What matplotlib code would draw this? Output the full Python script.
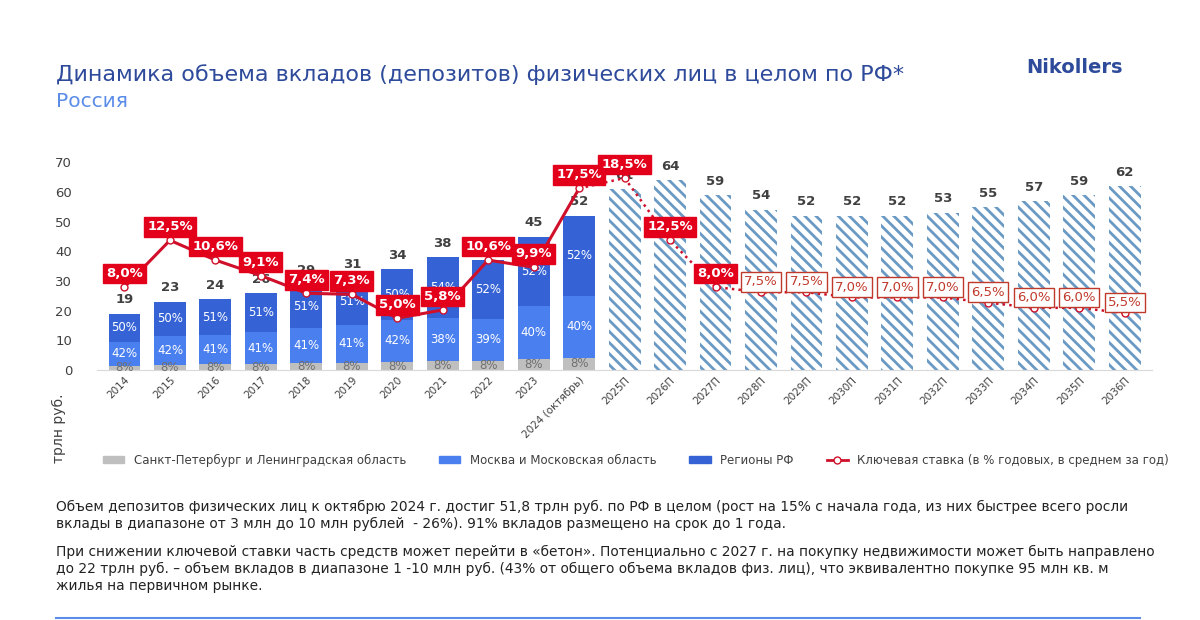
import matplotlib
matplotlib.use("Agg")
import matplotlib.pyplot as plt
from matplotlib.patches import Patch
from matplotlib.lines import Line2D
import numpy as np

plt.rcParams['font.family'] = 'DejaVu Sans'
plt.rcParams['hatch.linewidth'] = 2.0

categories = ["2014","2015","2016","2017","2018","2019","2020","2021","2022","2023","2024 (октябрь)",
              "2025П","2026П","2027П","2028П","2029П","2030П","2031П","2032П","2033П","2034П","2035П","2036П"]
totals = [19,23,24,26,29,31,34,38,37,45,52,61,64,59,54,52,52,52,53,55,57,59,62]
spb_pct = [8,8,8,8,8,8,8,8,8,8,8]
msk_pct = [42,42,41,41,41,41,42,38,39,40,40]
reg_pct = [50,50,51,51,51,51,50,54,52,52,52]
key_rate = [8.0,12.5,10.6,9.1,7.4,7.3,5.0,5.8,10.6,9.9,17.5,18.5,12.5,8.0,7.5,7.5,7.0,7.0,7.0,6.5,6.0,6.0,5.5]
n_hist = 11

fig = plt.figure(figsize=(12,6.2), dpi=100)
fig.patch.set_facecolor('white')
ax = fig.add_axes([0.081, 0.403, 0.879, 0.335])
ax.set_facecolor('none')
x = np.arange(len(categories))
w = 0.7
c_spb, c_msk, c_reg = '#bfbfbf', '#4a7ff0', '#3563d6'
for i in range(n_hist):
    t = totals[i]
    s = t*spb_pct[i]/100; m = t*msk_pct[i]/100; r = t - s - m
    ax.bar(x[i], s, w, color=c_spb)
    ax.bar(x[i], m, w, bottom=s, color=c_msk)
    ax.bar(x[i], r, w, bottom=s+m, color=c_reg)
    ax.text(x[i], s/2, f"{spb_pct[i]}%", ha='center', va='center', color='#707070', fontsize=8.5)
    ax.text(x[i], s+m/2, f"{msk_pct[i]}%", ha='center', va='center', color='white', fontsize=8.5)
    ax.text(x[i], s+m+r/2, f"{reg_pct[i]}%", ha='center', va='center', color='white', fontsize=8.5)
for i in range(n_hist, len(categories)):
    ax.bar(x[i], totals[i], w, color='white', edgecolor='#6a9ac4', hatch='\\\\\\', linewidth=0)
for i, t in enumerate(totals):
    ax.text(x[i], t+2.5, str(t), ha='center', va='bottom', color='#404040', fontsize=9.5, fontweight='bold')

ax.set_ylim(0,70)
ax.set_xlim(-0.6, len(categories)-0.4)
ax.set_yticks(range(0,71,10))
ax.tick_params(axis='y', length=0, labelsize=9.5, colors='#404040', pad=18)
ax.tick_params(axis='x', length=0, labelsize=7.5, colors='#404040')
ax.set_xticks(x)
ax.set_xticklabels(categories, rotation=45, ha='right', rotation_mode='anchor')
for s in ['top','right','left']:
    ax.spines[s].set_visible(False)
ax.spines['bottom'].set_color('#d9d9d9')
ax.set_ylabel('трлн руб.', fontsize=10, color='#404040')
ax.yaxis.set_label_coords(-0.03, -0.28)

ax2 = ax.twinx()
ax2.set_ylim(0,20)
ax2.axis('off')
ax2.plot(x[:n_hist], key_rate[:n_hist], color='#d0102a', lw=2.2, zorder=5)
ax2.plot(x[n_hist-1:], key_rate[n_hist-1:], color='#d0102a', lw=1.8, ls=':', zorder=5)
ax2.plot(x, key_rate, 'o', ms=5, mfc='white', mec='#d0102a', mew=1, zorder=6)
for i, r in enumerate(key_rate):
    lab = f"{r:.1f}%".replace('.', ',')
    dy = 1.3 if i <= 13 else 1.0
    if i <= 13:
        ax2.text(x[i], r+dy, lab, ha='center', va='center', color='white', fontsize=9.5, fontweight='bold',
                 bbox=dict(boxstyle='square,pad=0.25', fc='#e3001b', ec='#e3001b'), zorder=7)
    else:
        ax2.text(x[i], r+dy, lab, ha='center', va='center', color='#c0392b', fontsize=9.5,
                 bbox=dict(boxstyle='square,pad=0.25', fc='white', ec='#c0392b', lw=1), zorder=7)

handles = [Patch(color=c_spb), Patch(color=c_msk), Patch(color=c_reg),
           Line2D([0],[0], color='#d0102a', lw=2, marker='o', mfc='white', ms=5)]
labels = ['Санкт-Петербург и Ленинградская область', 'Москва и Московская область', 'Регионы РФ',
          'Ключевая ставка (в % годовых, в среднем за год)']
fig.legend(handles, labels, loc='center', bbox_to_anchor=(0.53, 0.258), ncol=4, frameon=False,
           fontsize=8.5, handlelength=1.8, handleheight=0.6, columnspacing=2.8, labelcolor='#404040')

fig.text(0.047, 0.87, 'Динамика объема вкладов (депозитов) физических лиц в целом по РФ*', fontsize=16, color='#2e4a9a')
fig.text(0.047, 0.828, 'Россия', fontsize=14.5, color='#5b8de8')
fig.text(0.855, 0.883, 'Nikollers', fontsize=14, color='#2e4a9a', fontweight='bold')

fig.text(0.047, 0.148, 'Объем депозитов физических лиц к октябрю 2024 г. достиг 51,8 трлн руб. по РФ в целом (рост на 15% с начала года, из них быстрее всего росли\n'
         'вклады в диапазоне от 3 млн до 10 млн рублей  - 26%). 91% вкладов размещено на срок до 1 года.',
         fontsize=9.9, color='#222222', linespacing=1.3)
fig.text(0.047, 0.048, 'При снижении ключевой ставки часть средств может перейти в «бетон». Потенциально с 2027 г. на покупку недвижимости может быть направлено\n'
         'до 22 трлн руб. – объем вкладов в диапазоне 1 -10 млн руб. (43% от общего объема вкладов физ. лиц), что эквивалентно покупке 95 млн кв. м\n'
         'жилья на первичном рынке.', fontsize=9.9, color='#222222', linespacing=1.3)
fig.add_artist(Line2D([0.047, 0.95], [0.003, 0.003], color='#5b8de8', lw=1.5))

fig.savefig('out.png', dpi=100)
